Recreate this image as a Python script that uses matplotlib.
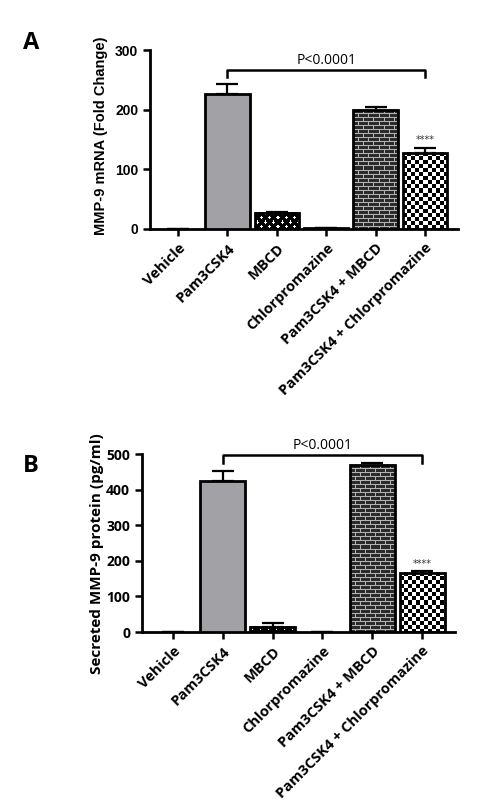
import numpy as np
import matplotlib
matplotlib.use('Agg')
import matplotlib.pyplot as plt
from matplotlib.colors import ListedColormap

groups = ['Vehicle', 'Pam3CSK4', 'MBCD', 'Chlorpromazine',
          'Pam3CSK4 + MBCD', 'Pam3CSK4 + Chlorpromazine']

# pannello A: mRNA (fold change)
mrna = [0, 227, 27, 1, 200, 128]
mrna_err = [0, 16, 1, 0, 4, 7]

# pannello B: proteina secreta (pg/ml)
prot = [0, 425, 15, 0, 470, 167]
prot_err = [0, 27, 9, 0, 4, 4]

# piastrelle dei pattern (1 = colore chiaro)
checker = np.kron(np.array([[1, 0], [0, 1]]), np.ones((4, 4), dtype=int))
diamond = np.array([[0, 0, 1, 0, 0, 0, 0, 0],
                    [0, 1, 1, 1, 0, 0, 0, 0],
                    [0, 0, 1, 0, 0, 0, 0, 0],
                    [0, 0, 0, 0, 0, 0, 0, 0],
                    [0, 0, 0, 0, 0, 0, 1, 0],
                    [0, 0, 0, 0, 0, 1, 1, 1],
                    [0, 0, 0, 0, 0, 0, 1, 0],
                    [0, 0, 0, 0, 0, 0, 0, 0]])
brick = np.array([[1, 1, 1, 1, 1, 1, 1, 1, 1, 1],
                  [1, 0, 0, 0, 0, 0, 0, 0, 0, 0],
                  [1, 0, 0, 0, 0, 0, 0, 0, 0, 0],
                  [1, 0, 0, 0, 0, 0, 0, 0, 0, 0],
                  [1, 1, 1, 1, 1, 1, 1, 1, 1, 1],
                  [0, 0, 0, 0, 0, 1, 0, 0, 0, 0],
                  [0, 0, 0, 0, 0, 1, 0, 0, 0, 0],
                  [0, 0, 0, 0, 0, 1, 0, 0, 0, 0]])

styles = [('fill', 'white'), ('fill', '#a2a1a6'), ('pat', diamond, '#000000', '#ffffff'),
          ('fill', 'white'), ('pat', brick, '#2b2b2b', '#b5b5b5'),
          ('pat', checker, '#000000', '#ffffff')]


def fill_pattern(ax, x0, x1, y0, y1, tile, dark, light):
    p0 = ax.transData.transform((x0, y0))
    p1 = ax.transData.transform((x1, y1))
    w = int(round(abs(p1[0] - p0[0])))
    h = int(round(abs(p1[1] - p0[1])))
    if w < 1 or h < 1:
        return
    reps = (h // tile.shape[0] + 2, w // tile.shape[1] + 2)
    img = np.tile(tile, reps)[:h, :w]
    ax.imshow(img, extent=(x0, x1, y0, y1), cmap=ListedColormap([dark, light]),
              vmin=0, vmax=1, interpolation='nearest', aspect='auto',
              origin='upper', zorder=2)


def panel(ax, vals, errs, ylim, yticks, ylabel, ylab_font, ylab_size, ylab_xy,
          bracket_y, bracket_drop, star_y, xlim):
    x = np.arange(len(groups))
    bw = 0.9
    ax.set_xlim(*xlim)
    ax.set_ylim(*ylim)
    ax.errorbar(x, vals, yerr=[np.zeros(len(errs)), errs], fmt='none', ecolor='black',
                capsize=8, elinewidth=1.6, capthick=1.6, zorder=1)
    for i, st in enumerate(styles):
        if vals[i] <= 0:
            continue
        if st[0] == 'fill':
            ax.bar(x[i], vals[i], bw, color=st[1], edgecolor='black', linewidth=2, zorder=3)
        else:
            fill_pattern(ax, x[i] - bw / 2, x[i] + bw / 2, 0, vals[i], st[1], st[2], st[3])
            ax.bar(x[i], vals[i], bw, facecolor='none', edgecolor='black', linewidth=2, zorder=3)
    ax.set_xlim(*xlim)
    ax.set_ylim(*ylim)

    # parentesi di significativita'
    ax.plot([1, 1, 5, 5], [bracket_y - bracket_drop, bracket_y, bracket_y, bracket_y - bracket_drop],
            color='black', lw=1.8, clip_on=False)
    ax.text(3, bracket_y + (ylim[1] - ylim[0]) * 0.012, 'P<0.0001', ha='center', va='bottom',
            fontsize=10, family='Open Sans')
    ax.text(5, star_y, '****', ha='center', va='bottom', fontsize=7, color='#333333')

    ax.spines['top'].set_visible(False)
    ax.spines['right'].set_visible(False)
    ax.spines['left'].set_linewidth(2)
    ax.spines['bottom'].set_linewidth(2)
    ax.spines['left'].set_bounds(ylim[0], yticks[-1])
    ax.set_yticks(yticks)
    ax.set_xticks(x)
    ax.tick_params(axis='both', width=1.8, length=5, direction='out')
    ax.set_xticklabels(groups, rotation=45, ha='right', rotation_mode='anchor',
                       fontsize=10.5, fontweight='bold', family='Open Sans')
    for lab in ax.get_yticklabels():
        lab.set_fontweight('bold')
        lab.set_fontsize(10)
        lab.set_family(ylab_font)
    ax.set_ylabel(ylabel, fontsize=ylab_size, fontweight='bold', family=ylab_font,
                  va='center')
    ax.yaxis.set_label_coords(*ylab_xy)


fig = plt.figure(figsize=(4.83, 8.11), dpi=100)

axA = fig.add_axes([150 / 483, 1 - 229 / 811, 308 / 483, 179 / 811])
panel(axA, mrna, mrna_err, (0, 300), [0, 100, 200, 300], 'MMP-9 mRNA (Fold Change)',
      'Liberation Sans', 10.5, (-0.159, 0.52), 266, 11, 141, (-0.57, 5.67))

axB = fig.add_axes([142 / 483, 1 - 632 / 811, 313 / 483, 178 / 811])
panel(axB, prot, prot_err, (0, 500), [0, 100, 200, 300, 400, 500],
      'Secreted MMP-9 protein (pg/ml)', 'Open Sans', 11, (-0.145, 0.44),
      498, 22, 177, (-0.62, 5.66))

fig.text(31 / 483, 1 - 43 / 811, 'A', fontsize=17, fontweight='bold', family='Open Sans',
         ha='center', va='center')
fig.text(31 / 483, 1 - 466 / 811, 'B', fontsize=17, fontweight='bold', family='Open Sans',
         ha='center', va='center')

fig.savefig('out.png', dpi=100)
